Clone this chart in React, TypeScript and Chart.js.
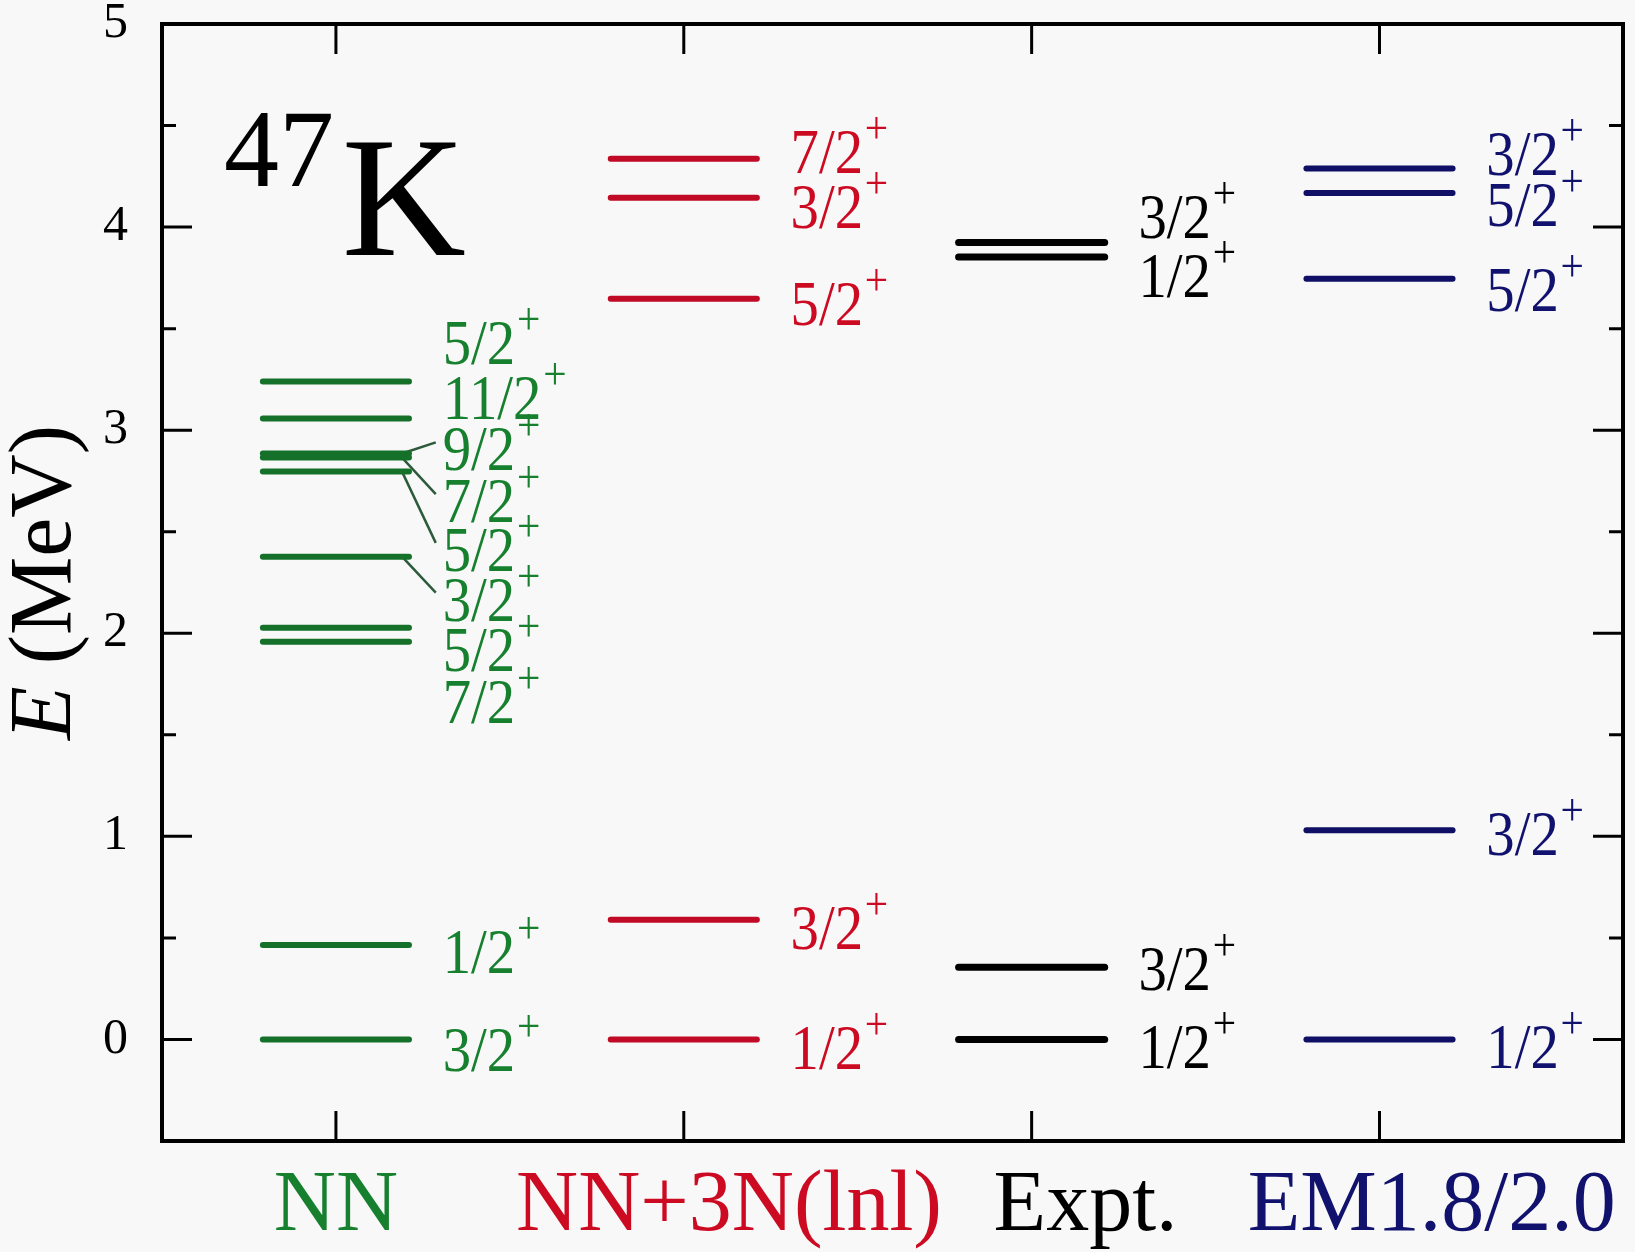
import { useEffect, useRef } from 'react';
import { Chart, registerables, ChartConfiguration, Plugin } from 'chart.js';

Chart.register(...registerables);

// columns of the level scheme
const categories = ['NN', 'NN+3N(lnl)', 'Expt.', 'EM1.8/2.0'];
const categoryColors = ['#17802f', '#cc0a22', '#000000', '#11116e'];
const lineColors = ['#15702a', '#c00a26', '#000000', '#0f0f66'];
const categoryLabelX = [1.0, 2.13, 3.155, 4.15];

// level energies (MeV), spin labels and where each label sits
const nnEnergies = [0, 0.465, 1.958, 2.027, 2.377, 2.796, 2.865, 2.885, 3.057, 3.24];
const nnSpins = ['3/2', '1/2', '7/2', '5/2', '3/2', '5/2', '7/2', '9/2', '11/2', '5/2'];
const nnLabelY = [-0.05, 0.43, 1.66, 1.92, 2.165, 2.41, 2.65, 2.905, 3.16, 3.43];
const nnConnector = [false, false, false, false, true, true, true, true, false, false];

const threeNEnergies = [0, 0.59, 3.647, 4.145, 4.337];
const threeNSpins = ['1/2', '3/2', '5/2', '3/2', '7/2'];
const threeNLabelY = [-0.04, 0.55, 3.62, 4.1, 4.37];

const exptEnergies = [0, 0.355, 3.853, 3.924];
const exptSpins = ['1/2', '3/2', '1/2', '3/2'];
const exptLabelY = [-0.035, 0.345, 3.76, 4.05];

const emEnergies = [0, 1.03, 3.746, 4.168, 4.289];
const emSpins = ['1/2', '3/2', '5/2', '5/2', '3/2'];
const emLabelY = [-0.035, 1.01, 3.69, 4.11, 4.36];

const columns = [
  { energies: nnEnergies, spins: nnSpins, labelY: nnLabelY, connector: nnConnector },
  { energies: threeNEnergies, spins: threeNSpins, labelY: threeNLabelY, connector: [] as boolean[] },
  { energies: exptEnergies, spins: exptSpins, labelY: exptLabelY, connector: [] as boolean[] },
  { energies: emEnergies, spins: emSpins, labelY: emLabelY, connector: [] as boolean[] },
];

const yMajorTicks = [0, 1, 2, 3, 4, 5];
const yMinorTicks = [0.5, 1.5, 2.5, 3.5, 4.5];

const HALF = 0.21; // half length of a level line, in column units
const LABEL_DX = 0.307;
const SERIF = '"Liberation Serif", "Times New Roman", serif';

function buildDatasets() {
  const sets: any[] = [];
  columns.forEach((col, i) => {
    const cx = i + 1;
    col.energies.forEach((e, j) => {
      sets.push({
        data: [{ x: cx - HALF, y: e }, { x: cx + HALF, y: e }],
        borderColor: lineColors[i],
        borderWidth: i === 2 ? 7 : 6,
        borderCapStyle: 'round',
        pointRadius: 0,
        showLine: true,
      });
      if (col.connector[j]) {
        sets.push({
          data: [{ x: cx + 0.19, y: e }, { x: cx + LABEL_DX - 0.02, y: col.labelY[j] + 0.035 }],
          borderColor: '#2e5a3c',
          borderWidth: 2.5,
          pointRadius: 0,
          showLine: true,
        });
      }
    });
  });
  return sets;
}

const decorations: Plugin = {
  id: 'decorations',
  afterDraw(chart) {
    const ctx = chart.ctx;
    const { left, right, top, bottom } = chart.chartArea;
    const xs = chart.scales.x;
    const ys = chart.scales.y;

    ctx.save();
    ctx.strokeStyle = '#000';
    ctx.lineWidth = 3;
    ctx.beginPath();
    yMajorTicks.forEach((v) => {
      const py = ys.getPixelForValue(v);
      ctx.moveTo(left, py); ctx.lineTo(left + 30, py);
      ctx.moveTo(right, py); ctx.lineTo(right - 30, py);
    });
    yMinorTicks.forEach((v) => {
      const py = ys.getPixelForValue(v);
      ctx.moveTo(left, py); ctx.lineTo(left + 14, py);
      ctx.moveTo(right, py); ctx.lineTo(right - 14, py);
    });
    categories.forEach((_, i) => {
      const px = xs.getPixelForValue(i + 1);
      ctx.moveTo(px, bottom); ctx.lineTo(px, bottom - 30);
      ctx.moveTo(px, top); ctx.lineTo(px, top + 30);
    });
    ctx.stroke();

    ctx.lineWidth = 4;
    ctx.strokeRect(left, top, right - left, bottom - top);

    // y tick labels
    ctx.fillStyle = '#000';
    ctx.font = `50px ${SERIF}`;
    ctx.textAlign = 'right';
    ctx.textBaseline = 'middle';
    yMajorTicks.forEach((v) => {
      ctx.fillText(String(v), left - 34, ys.getPixelForValue(v));
    });

    // y title
    ctx.save();
    ctx.translate(70, ys.getPixelForValue(2.25));
    ctx.rotate(-Math.PI / 2);
    ctx.textAlign = 'left';
    ctx.textBaseline = 'alphabetic';
    ctx.font = `italic 88px ${SERIF}`;
    const wE = ctx.measureText('E').width;
    ctx.font = `88px ${SERIF}`;
    const wRest = ctx.measureText(' (MeV)').width;
    const x0 = -(wE + wRest) / 2;
    ctx.font = `italic 88px ${SERIF}`;
    ctx.fillText('E', x0, 0);
    ctx.font = `88px ${SERIF}`;
    ctx.fillText(' (MeV)', x0 + wE, 0);
    ctx.restore();

    // column names
    ctx.textAlign = 'center';
    ctx.textBaseline = 'alphabetic';
    ctx.font = `86px ${SERIF}`;
    categories.forEach((name, i) => {
      ctx.fillStyle = categoryColors[i];
      ctx.fillText(name, xs.getPixelForValue(categoryLabelX[i]), bottom + 89);
    });

    // nucleus
    ctx.fillStyle = '#000';
    ctx.textAlign = 'left';
    ctx.font = `110px ${SERIF}`;
    ctx.fillText('47', xs.getPixelForValue(0.678), ys.getPixelForValue(4.2));
    ctx.font = `172px ${SERIF}`;
    ctx.fillText('K', xs.getPixelForValue(1.017), ys.getPixelForValue(3.863));

    // spin-parity labels
    columns.forEach((col, i) => {
      ctx.fillStyle = categoryColors[i];
      col.spins.forEach((s, j) => {
        const px = xs.getPixelForValue(i + 1 + LABEL_DX);
        const base = ys.getPixelForValue(col.labelY[j]) + 21;
        ctx.save();
        ctx.translate(px, base);
        ctx.scale(0.9, 1);
        ctx.font = `63px ${SERIF}`;
        ctx.fillText(s, 0, 0);
        const w = ctx.measureText(s).width;
        ctx.font = `46px ${SERIF}`;
        ctx.fillText('+', w + 2, -30);
        ctx.restore();
      });
    });
    ctx.restore();
  },
};

const App = () => {
  const canvasRef = useRef<HTMLCanvasElement>(null);
  const chartRef = useRef<Chart | null>(null);

  useEffect(() => {
    document.body.style.margin = '0';
    document.body.style.background = '#f8f8f8';
    if (!canvasRef.current) return;
    const config: ChartConfiguration<'scatter'> = {
      type: 'scatter',
      data: { datasets: buildDatasets() },
      options: {
        animation: false,
        responsive: true,
        maintainAspectRatio: false,
        devicePixelRatio: 1,
        layout: { padding: { left: 162, right: 12, top: 24, bottom: 111 } },
        plugins: { legend: { display: false }, tooltip: { enabled: false }, title: { display: false } },
        scales: {
          x: { type: 'linear', min: 0.5, max: 4.7, display: false },
          y: { type: 'linear', min: -0.5, max: 5, display: false },
        },
      },
      plugins: [decorations],
    };
    if (chartRef.current) chartRef.current.destroy();
    chartRef.current = new Chart(canvasRef.current, config);
    return () => {
      if (chartRef.current) {
        chartRef.current.destroy();
        chartRef.current = null;
      }
    };
  }, []);

  return (
    <div style={{ position: 'absolute', left: 0, top: 0, width: 1635, height: 1252, background: '#f8f8f8' }}>
      <canvas ref={canvasRef}></canvas>
    </div>
  );
};

export default App;
